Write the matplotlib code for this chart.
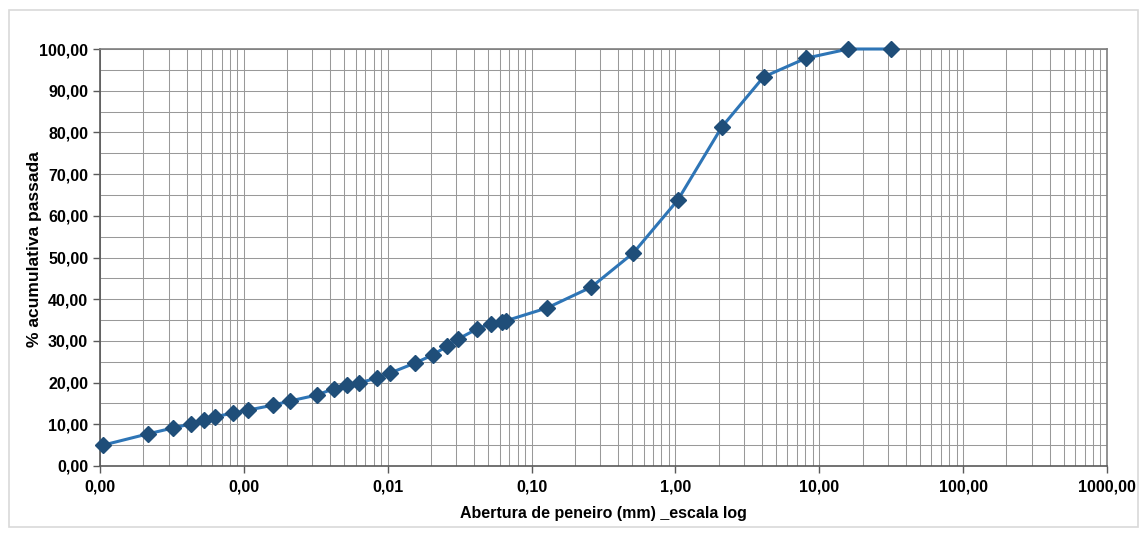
import matplotlib
matplotlib.use("Agg")
import matplotlib.pyplot as plt
import numpy as np
from matplotlib.ticker import FixedLocator, LogLocator, NullFormatter, MultipleLocator

# Particle size (mm) and cumulative % passing
abertura = [1.05e-4, 2.15e-4, 3.2e-4, 4.3e-4, 5.3e-4, 6.3e-4, 8.4e-4, 1.07e-3,
            1.6e-3, 2.1e-3, 3.2e-3, 4.2e-3, 5.2e-3, 6.3e-3, 8.4e-3, 1.04e-2,
            1.55e-2, 2.05e-2, 2.6e-2, 3.1e-2, 4.2e-2, 5.2e-2, 6.2e-2, 6.6e-2,
            0.128, 0.26, 0.51, 1.04, 2.1, 4.1, 8.1, 15.9, 31.6]
passada = [5.0, 7.7, 9.1, 10.1, 11.0, 11.8, 12.7, 13.4,
           14.6, 15.6, 17.0, 18.5, 19.4, 19.9, 21.1, 22.3,
           24.7, 26.6, 28.8, 30.5, 32.9, 34.1, 34.5, 34.8,
           37.9, 42.9, 51.1, 63.8, 81.3, 93.3, 97.8, 100.0, 100.0]

x_ticks = [1e-4, 1e-3, 1e-2, 1e-1, 1, 10, 100, 1000]
x_labels = ["0,00", "0,00", "0,01", "0,10", "1,00", "10,00", "100,00", "1000,00"]
y_ticks = list(range(0, 101, 10))
y_labels = ["%d,00" % v for v in y_ticks]

plt.rcParams["font.family"] = ["Liberation Sans", "DejaVu Sans"]

fig = plt.figure(figsize=(11.45, 5.34), dpi=100)
ax = fig.add_axes([100 / 1145, 1 - 466 / 534, 1007 / 1145, 417 / 534])

# outer light frame
fig.patches.append(plt.Rectangle((9 / 1145, 7 / 534), 1129 / 1145, 517 / 534,
                                 transform=fig.transFigure, fill=False,
                                 edgecolor="#d9d9d9", linewidth=1.2))

ax.set_xscale("log")
ax.set_xlim(1e-4, 1000)
ax.set_ylim(0, 100)

ax.xaxis.set_major_locator(FixedLocator(x_ticks))
ax.set_xticklabels(x_labels)
ax.xaxis.set_minor_locator(LogLocator(base=10, subs=np.arange(2, 10), numticks=50))
ax.xaxis.set_minor_formatter(NullFormatter())
ax.set_yticks(y_ticks)
ax.set_yticklabels(y_labels)
ax.yaxis.set_minor_locator(MultipleLocator(5))

ax.grid(True, which="both", color="#999999", linewidth=0.75)
ax.set_axisbelow(True)
ax.tick_params(which="major", direction="out", length=5, color="#595959",
               labelsize=11.5, width=1)
ax.tick_params(which="minor", length=0)
ax.tick_params(axis="x", pad=5)
for lbl in ax.get_xticklabels() + ax.get_yticklabels():
    lbl.set_fontweight("bold")
for s in ax.spines.values():
    s.set_color("#7f7f7f")
    s.set_linewidth(1.2)
ax.spines["left"].set_color("#595959")
ax.spines["bottom"].set_color("#595959")

ax.plot(abertura, passada, color="#2e75b6", linewidth=2.2, marker="D",
        markersize=8.5, markerfacecolor="#1f4e79", markeredgecolor="#1f4e79",
        clip_on=False, zorder=3)

ax.set_xlabel("Abertura de peneiro (mm) _escala log", fontsize=11.5,
              fontweight="bold", labelpad=8)
ax.set_ylabel("% acumulativa passada", fontsize=12.5, fontweight="bold")
ax.yaxis.set_label_coords(-0.058, 0.52)

fig.savefig("out.png", dpi=100, facecolor="white")
